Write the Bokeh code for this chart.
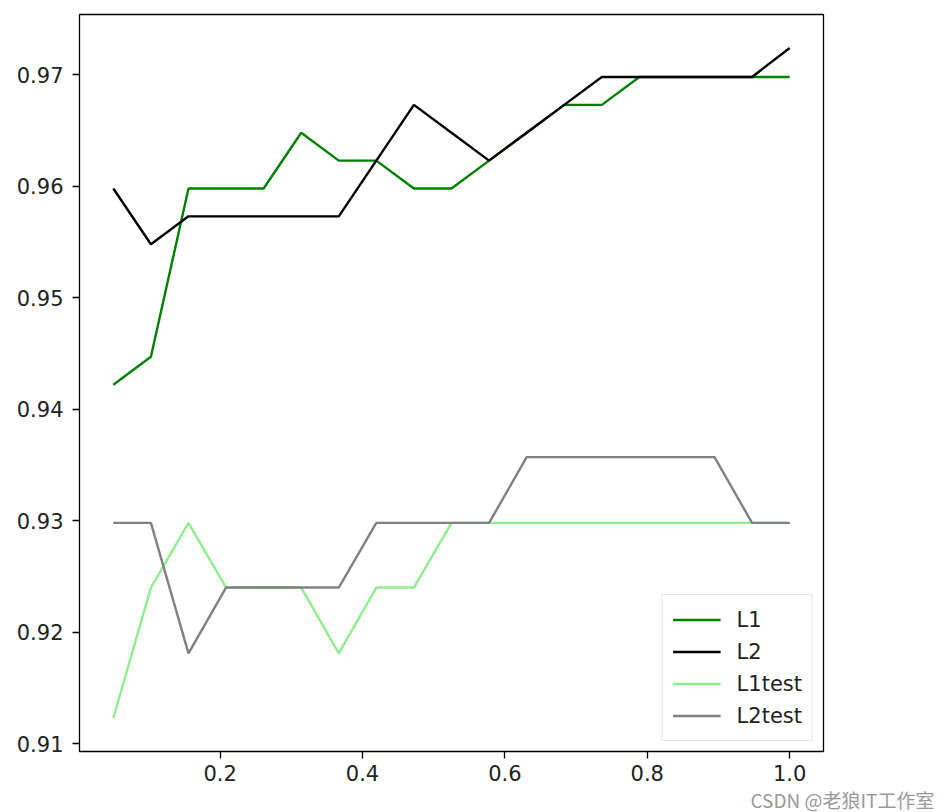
from bokeh.plotting import figure
from bokeh.models import Range1d, FixedTicker, PrintfTickFormatter, Legend, LegendItem, Title
from bokeh.embed import file_html
from bokeh.resources import INLINE

# regularisation strength C
c_values = [0.05, 0.1028, 0.1556, 0.2083, 0.2611, 0.3139, 0.3667, 0.4194, 0.4722, 0.525,
            0.5778, 0.6306, 0.6833, 0.7361, 0.7889, 0.8417, 0.8944, 0.9472, 1.0]

l1_train = [0.9422, 0.9447, 0.9598, 0.9598, 0.9598, 0.9648, 0.9623, 0.9623, 0.9598, 0.9598,
            0.9623, 0.9648, 0.9673, 0.9673, 0.9698, 0.9698, 0.9698, 0.9698, 0.9698]
l2_train = [0.9598, 0.9548, 0.9573, 0.9573, 0.9573, 0.9573, 0.9573, 0.9623, 0.9673, 0.9648,
            0.9623, 0.9648, 0.9673, 0.9698, 0.9698, 0.9698, 0.9698, 0.9698, 0.9724]
l1_test = [0.9123, 0.9240, 0.9298, 0.9240, 0.9240, 0.9240, 0.9181, 0.9240, 0.9240, 0.9298,
           0.9298, 0.9298, 0.9298, 0.9298, 0.9298, 0.9298, 0.9298, 0.9298, 0.9298]
l2_test = [0.9298, 0.9298, 0.9181, 0.9240, 0.9240, 0.9240, 0.9240, 0.9298, 0.9298, 0.9298,
           0.9298, 0.9357, 0.9357, 0.9357, 0.9357, 0.9357, 0.9357, 0.9298, 0.9298]

series_names = ["L1", "L2", "L1test", "L2test"]
series_colors = ["green", "black", "lightgreen", "gray"]

x_ticks = [0.2, 0.4, 0.6, 0.8, 1.0]
y_ticks = [0.91, 0.92, 0.93, 0.94, 0.95, 0.96, 0.97]

watermark = "CSDN @老狼IT工作室"

FONT = "DejaVu Sans"

# matplotlib-like 5% margins
all_y = l1_train + l2_train + l1_test + l2_test
ymin, ymax = min(all_y), max(all_y)
ypad = (ymax - ymin) * 0.05
xmin, xmax = min(c_values), max(c_values)
xpad = (xmax - xmin) * 0.05

p = figure(width=952, height=812, output_backend="svg", toolbar_location=None,
           x_range=Range1d(xmin - xpad, xmax + xpad),
           y_range=Range1d(ymin - ypad, ymax + ypad),
           min_border_left=79, min_border_right=129, min_border_top=14, min_border_bottom=60)

p.background_fill_color = "white"
p.border_fill_color = "white"
p.outline_line_color = "black"
p.outline_line_width = 1.3
p.xgrid.grid_line_color = None
p.ygrid.grid_line_color = None

for ax in (p.xaxis, p.yaxis):
    ax.axis_line_color = None
    ax.major_tick_out = 7
    ax.major_tick_in = 0
    ax.major_tick_line_color = "black"
    ax.major_tick_line_width = 1.3
    ax.minor_tick_line_color = None
    ax.major_label_text_font = FONT
    ax.major_label_text_font_size = "21px"
    ax.major_label_text_color = "#222222"

p.xaxis.ticker = FixedTicker(ticks=x_ticks)
p.yaxis.ticker = FixedTicker(ticks=y_ticks)
p.xaxis.formatter = PrintfTickFormatter(format="%.1f")
p.yaxis.formatter = PrintfTickFormatter(format="%.2f")
p.xaxis.major_label_standoff = 6
p.yaxis.major_label_standoff = 9

items = []
for name, ys, col in zip(series_names, [l1_train, l2_train, l1_test, l2_test], series_colors):
    r = p.line(c_values, ys, line_color=col, line_width=2.4)
    items.append(LegendItem(label=name, renderers=[r]))

legend = Legend(items=items, location="bottom_right")
legend.margin = 10
legend.padding = 10
legend.spacing = 3
legend.glyph_width = 48
legend.glyph_height = 29
legend.label_height = 29
legend.label_standoff = 16
legend.label_text_font = FONT
legend.label_text_font_size = "21px"
legend.label_text_color = "#222222"
legend.border_line_color = "#cccccc"
legend.border_line_width = 1.3
legend.background_fill_alpha = 0.8
p.add_layout(legend)

wm = Title(text=watermark, align="left", offset=671, standoff=0,
           text_font="Noto Sans CJK SC", text_font_size="19px", text_font_style="normal",
           text_color="#999999", text_line_height=0.8)
p.add_layout(wm, "below")

open("out.html", "w").write(file_html(p, INLINE))
